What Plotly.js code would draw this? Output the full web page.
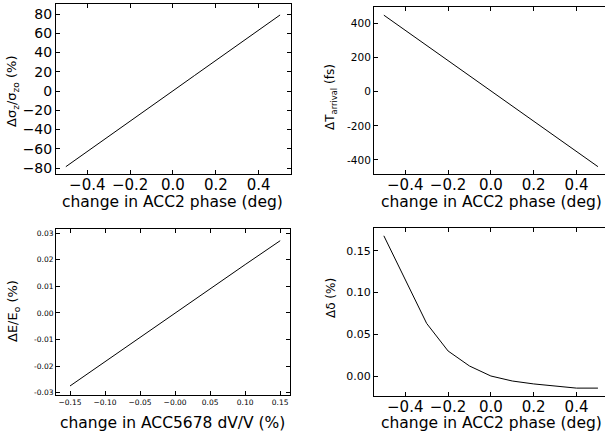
<!DOCTYPE html>
<html>
<head>
<meta charset="utf-8">
<script src="https://cdn.plot.ly/plotly-3.0.1.min.js"></script>
<style>html,body{margin:0;padding:0;background:#fff;}#chart{width:605px;height:437px;}</style>
</head>
<body>
<div id="chart"></div>
<script>
// ---- data ----
const phase = [-0.5, -0.4, -0.3, -0.2, -0.1, 0.0, 0.1, 0.2, 0.3, 0.4, 0.5];
const sigmaChange = [-78.6, -63.0, -47.3, -31.5, -15.7, 0.2, 16.0, 31.8, 47.6, 63.3, 79.0];
const arrivalChange = [448, 359, 270, 181, 92, 4, -85, -173, -262, -350, -439];
const dvv = [-0.15, -0.10, -0.05, 0.0, 0.05, 0.10, 0.15];
const energyChange = [-0.0275, -0.0183, -0.0092, 0.0, 0.0091, 0.0182, 0.0272];
const deltaChange = [0.168, 0.116, 0.063, 0.030, 0.012, 0.0, -0.006, -0.0095, -0.012, -0.0145, -0.0145];

const phaseTicks = [-0.4, -0.2, 0.0, 0.2, 0.4];
const phaseTickText = ["\u22120.4", "\u22120.2", "0.0", "0.2", "0.4"];
const sigmaTicks = [-80, -60, -40, -20, 0, 20, 40, 60, 80];
const arrivalTicks = [-400, -200, 0, 200, 400];
const dvvTicks = [-0.15, -0.10, -0.05, 0.0, 0.05, 0.10, 0.15];
const dvvTickText = ["\u22120.15", "\u22120.10", "\u22120.05", "\u22120.00", "0.05", "0.10", "0.15"];
const energyTicks = [-0.03, -0.02, -0.01, 0.0, 0.01, 0.02, 0.03];
const deltaTicks = [0.0, 0.05, 0.10, 0.15];

const FONT = "DejaVu Sans";
const W = 605, H = 437;
const px = v => v / W;
const py = v => 1 - v / H;

function axisBase(extra) {
  return Object.assign({
    showline: true, linecolor: '#000', linewidth: 1, mirror: 'allticks',
    ticks: 'inside', ticklen: 4, tickcolor: '#000', tickwidth: 1,
    showgrid: false, zeroline: false, fixedrange: true,
    tickfont: {family: FONT, size: 14, color: '#000'}
  }, extra);
}

function ann(text, x, y, size, angle) {
  return {text: text, x: px(x), y: py(y), xref: 'paper', yref: 'paper', showarrow: false,
    xanchor: 'center', yanchor: 'middle', textangle: angle || 0,
    font: {family: FONT, size: size, color: '#000'}};
}

const line = {color: '#000', width: 1};
const traces = [
  {x: phase, y: sigmaChange, xaxis: 'x', yaxis: 'y', mode: 'lines', line: line},
  {x: phase, y: arrivalChange, xaxis: 'x2', yaxis: 'y2', mode: 'lines', line: line},
  {x: dvv, y: energyChange, xaxis: 'x3', yaxis: 'y3', mode: 'lines', line: line},
  {x: phase, y: deltaChange, xaxis: 'x4', yaxis: 'y4', mode: 'lines', line: line}
];

const xTickFont = {family: FONT, size: 15, color: '#000'};

const layout = {
  width: W, height: H,
  margin: {l: 0, r: 0, t: 0, b: 0},
  paper_bgcolor: '#fff', plot_bgcolor: '#fff',
  showlegend: false,
  font: {family: FONT, color: '#000'},
  xaxis: axisBase({domain: [px(56), px(291)], range: [-0.546, 0.551], anchor: 'y',
    tickvals: phaseTicks, ticktext: phaseTickText, tickfont: xTickFont, ticklabelstandoff: -3}),
  yaxis: axisBase({domain: [py(174), py(4)], range: [-86.2, 90.4], anchor: 'x',
    tickvals: sigmaTicks, ticktext: sigmaTicks.map(v => v < 0 ? '\u2212' + Math.abs(v) : String(v))}),
  xaxis2: axisBase({domain: [px(374), 1], range: [-0.546, 0.533], anchor: 'y2',
    tickvals: phaseTicks, ticktext: phaseTickText, tickfont: xTickFont, ticklabelstandoff: -3}),
  yaxis2: axisBase({domain: [py(174), py(7.3)], range: [-482, 494], anchor: 'x2', mirror: false,
    tickvals: arrivalTicks, ticktext: arrivalTicks.map(v => v < 0 ? '-' + Math.abs(v) : String(v)),
    tickfont: {family: FONT, size: 10.5, color: '#000'}}),
  xaxis3: axisBase({domain: [px(56), px(290)], range: [-0.17, 0.164], anchor: 'y3',
    tickvals: dvvTicks, ticktext: dvvTickText, tickfont: {family: FONT, size: 7.5, color: '#000'}}),
  yaxis3: axisBase({domain: [py(395), py(229)], range: [-0.0309, 0.0316], anchor: 'x3',
    tickvals: energyTicks, ticktext: energyTicks.map(v => v < 0 ? '-' + Math.abs(v).toFixed(2) : v.toFixed(2)),
    tickfont: {family: FONT, size: 7.5, color: '#000'}}),
  xaxis4: axisBase({domain: [px(374), 1], range: [-0.546, 0.533], anchor: 'y4',
    tickvals: phaseTicks, ticktext: phaseTickText, tickfont: xTickFont, ticklabelstandoff: -3}),
  yaxis4: axisBase({domain: [py(395.7), py(228.3)], range: [-0.0236, 0.177], anchor: 'x4', mirror: false,
    tickvals: deltaTicks, ticktext: deltaTicks.map(v => v.toFixed(2)),
    tickfont: {family: FONT, size: 11, color: '#000'}}),
  annotations: [
    ann('change in ACC2 phase (deg)', 172, 202, 15.5),
    ann('change in ACC2 phase (deg)', 491, 202, 15.5),
    ann('change in ACC5678 dV/V (%)', 172, 423, 15.5),
    ann('change in ACC2 phase (deg)', 491, 423, 15.5),
    ann('\u0394\u03c3<sub>z</sub>/\u03c3<sub>zo</sub> (%)', 12, 91, 13, -90),
    ann('\u0394T<sub>arrival</sub> (fs)', 331, 97, 12, -90),
    ann('\u0394E/E<sub>o</sub> (%)', 13, 311, 13, -90),
    ann('\u0394\u03b4 (%)', 331, 298, 12, -90)
  ]
};

Plotly.newPlot('chart', traces, layout, {displayModeBar: false, staticPlot: true});
</script>
</body>
</html>
